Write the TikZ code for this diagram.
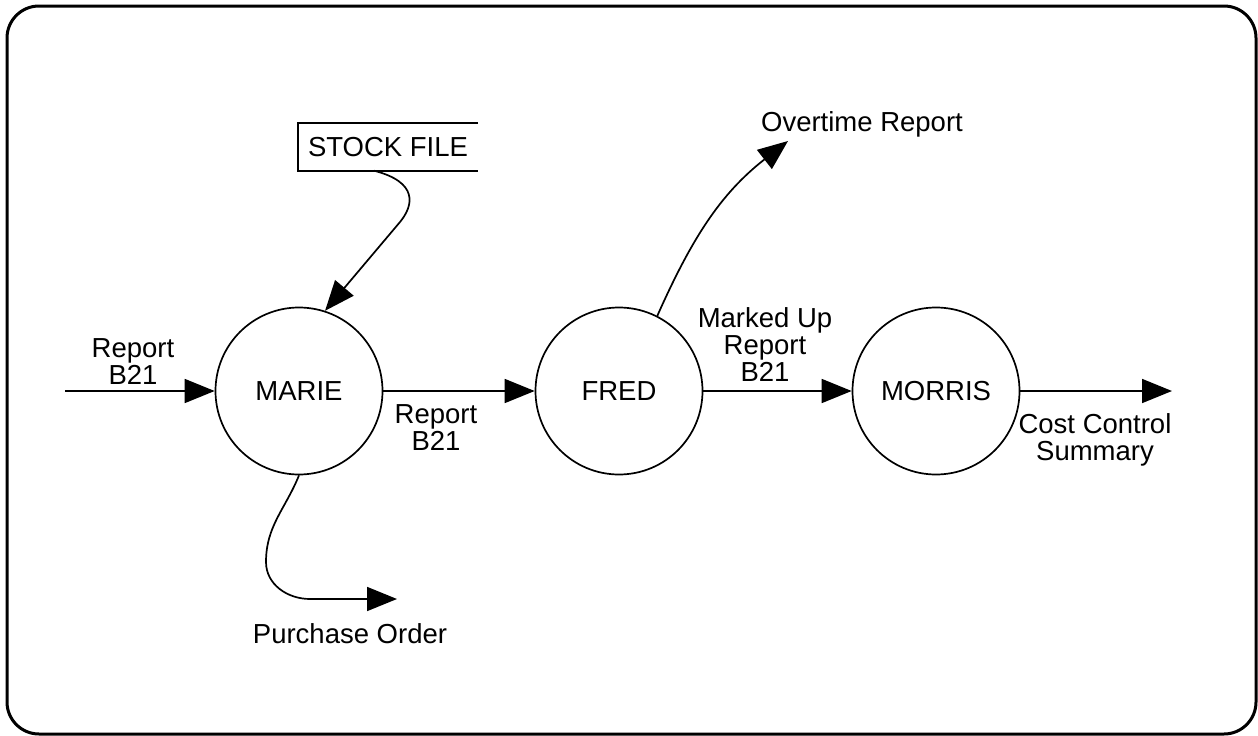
\documentclass[tikz,border=0pt]{standalone}
\usepackage{fontspec}
\setmainfont{Liberation Sans}
\usetikzlibrary{arrows.meta}
\begin{document}
\begin{tikzpicture}[x=1pt,y=-1pt,
  every node/.style={font=\fontsize{27.5}{27}\selectfont, inner sep=0pt, align=center},
  process/.style={circle, draw, line width=1.7pt, minimum size=167pt},
  flow/.style={line width=1.7pt, -{Triangle[length=30pt,width=24pt]}},
  frame/.style={line width=3pt, rounded corners=32pt},
  lbl/.style={}]
\useasboundingbox (0,0) rectangle (1258,736);
\draw[frame] (7,6) rectangle (1256,734);

% processes
\node[process] (marie)  at (299,391) {MARIE};
\node[process] (fred)   at (619,391) {FRED};
\node[process] (morris) at (936,391) {MORRIS};

% data store, open on its right side
\node[minimum width=180pt, minimum height=47pt] (stock) at (388,147) {STOCK FILE};
\draw[line width=1.7pt] (stock.north east) -- (stock.north west) -- (stock.south west) -- (stock.south east);

% free ends of flows
\coordinate (src) at (65,391);
\coordinate (sink) at (1172,391);
\coordinate (ottip) at (788,141);
\coordinate (potip) at (397,599);

% flows
\draw[flow] ([xshift=-14pt]stock.south) .. controls (418,182) and (414,205) .. (400,222) -- (marie.72);
\draw[flow] (src) -- (marie);
\draw[flow] (marie) -- (fred);
\draw[flow] (fred) -- (morris);
\draw[flow] (morris) -- (sink);
\draw[flow] (fred.63) to[out=66,in=218] (ottip);
\draw[flow] (marie.south) to[out=-112,in=90] (266,562) to[out=-90,in=180] (310,599) -- (potip);

% flow labels
\node[lbl] (l1) at (133,362) {Report\\B21};
\node[lbl] (l2) at (436,428) {Report\\B21};
\node[lbl] (l3) at (765,345) {Marked Up\\Report\\B21};
\node[lbl] (l4) at (1095,440) {Cost Control\\Summary};
\node[lbl] (l5) at (862,124) {Overtime Report};
\node[lbl] (l6) at (350,634) {Purchase Order};
\end{tikzpicture}
\end{document}
